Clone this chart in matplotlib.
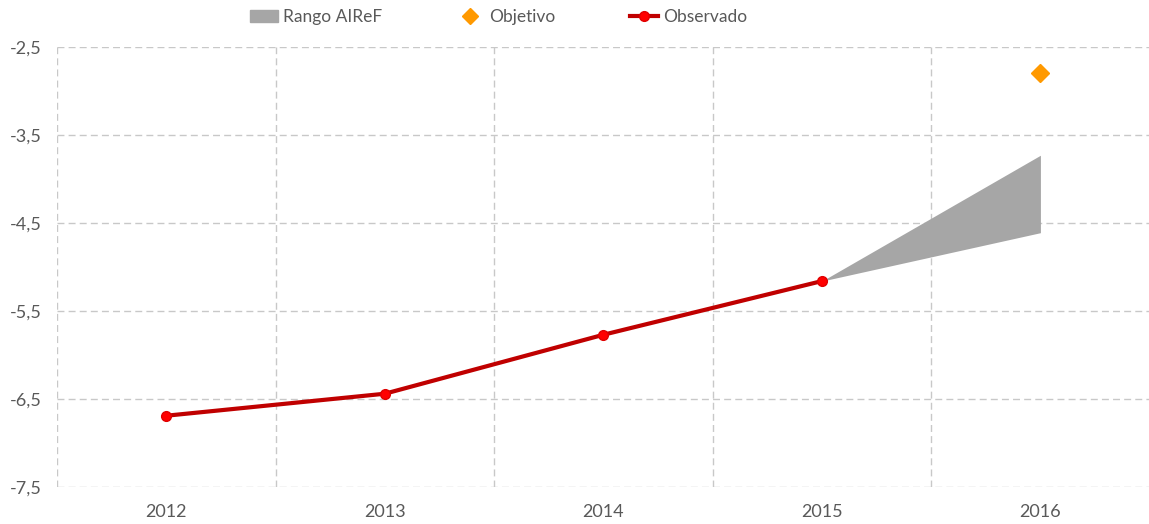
import matplotlib.pyplot as plt
from matplotlib.patches import Patch
from matplotlib.lines import Line2D

anios = ['2012', '2013', '2014', '2015', '2016']
observado = [-6.69, -6.44, -5.77, -5.16]
rango_inf = [-5.16, -4.61]
rango_sup = [-5.16, -3.73]
objetivo = -2.80
yticks = [-2.5, -3.5, -4.5, -5.5, -6.5, -7.5]

plt.rcParams['font.family'] = ['Lato', 'DejaVu Sans']
gris_txt = '#595959'
gris_grid = '#c8c8c8'

fig = plt.figure(figsize=(11.49, 5.24), dpi=100)
ax = fig.add_axes([0.0496, 0.0706, 0.951, 0.8397])

x = list(range(len(anios)))

# rango AIReF (entre 2015 y 2016)
ax.fill_between(x[3:5], rango_inf, rango_sup, color='#a6a6a6', lw=0, zorder=2)
# observado
ax.plot(x[:4], observado, color='#c00000', lw=3, marker='o', ms=7,
        mfc='#ff0000', mec='#e00000', zorder=3)
# objetivo
ax.plot(x[4], objetivo, marker='D', ms=9, color='#ff9900', ls='none', zorder=3)

ax.set_xlim(-0.5, 4.5)
ax.set_ylim(-7.5, -2.5)
ax.set_yticks(yticks)
ax.set_yticklabels([f'{v:.1f}'.replace('.', ',') for v in yticks])
ax.set_xticks(x)
ax.set_xticklabels(anios)
ax.set_xticks([i - 0.5 for i in range(len(anios) + 1)], minor=True)

ax.grid(axis='y', which='major', color=gris_grid, ls=(0, (5, 3)), lw=1)
ax.grid(axis='x', which='minor', color=gris_grid, ls=(0, (5, 3)), lw=1)
ax.grid(axis='x', which='major', visible=False)
ax.tick_params(which='both', length=0, colors=gris_txt, labelsize=13)
ax.tick_params(axis='x', pad=12)
ax.tick_params(axis='y', pad=11)
for s in ax.spines.values():
    s.set_visible(False)

handles = [
    Patch(color='#a6a6a6', label='Rango AIReF'),
    Line2D([], [], marker='D', ms=8, color='#ff9900', ls='none', label='Objetivo'),
    Line2D([], [], color='#c00000', lw=3, marker='o', ms=7, mfc='#ff0000',
           mec='#e00000', label='Observado'),
]
fig.legend(handles=handles, loc='center', bbox_to_anchor=(0.434, 0.967), ncol=3,
           frameon=False, fontsize=12.5, labelcolor=gris_txt, columnspacing=4.3,
           handlelength=1.6, handletextpad=0.3)

fig.savefig('out.png', dpi=100)
